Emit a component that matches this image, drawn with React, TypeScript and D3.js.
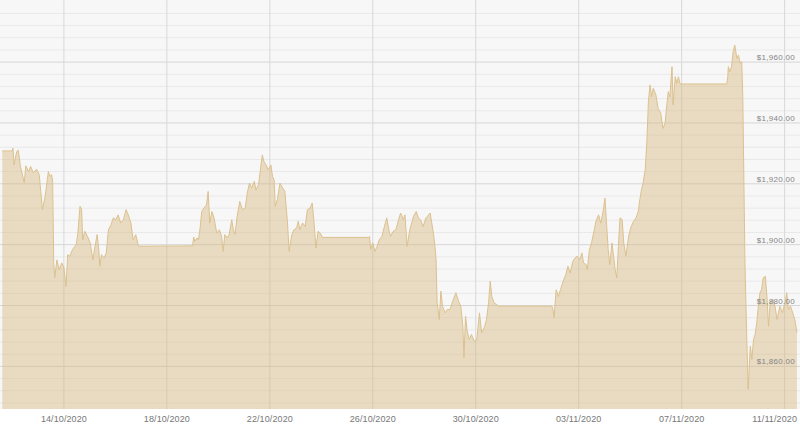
import React from 'react';
import * as d3 from 'd3';

// gold price, UTC "MM-DD HH:mm" (2020)
const times: string[] = [
  '10-11 14:30', '10-11 23:30', '10-12 00:30', '10-12 01:30', '10-12 04:00', '10-12 05:30', '10-12 07:30', '10-12 11:00',
  '10-12 12:30', '10-12 15:00', '10-12 17:00', '10-12 19:30', '10-12 22:30', '10-13 01:00', '10-13 04:00', '10-13 06:30',
  '10-13 09:30', '10-13 11:00', '10-13 12:30', '10-13 13:30', '10-13 14:30', '10-13 15:30', '10-13 17:30', '10-13 19:30',
  '10-13 22:00', '10-14 00:00', '10-14 02:00', '10-14 03:30', '10-14 05:30', '10-14 08:00', '10-14 11:30', '10-14 13:00',
  '10-14 15:00', '10-14 16:30', '10-14 17:30', '10-14 19:30', '10-14 22:00', '10-15 00:30', '10-15 03:00', '10-15 05:00',
  '10-15 07:00', '10-15 08:30', '10-15 09:30', '10-15 11:00', '10-15 13:30', '10-15 15:30', '10-15 17:30', '10-15 20:00',
  '10-15 22:00', '10-16 00:30', '10-16 02:30', '10-16 05:00', '10-16 07:30', '10-16 10:00', '10-16 12:00', '10-16 14:30',
  '10-16 16:30', '10-16 19:00', '10-16 21:30', '10-19 00:00', '10-19 01:00', '10-19 02:00', '10-19 04:00', '10-19 05:30',
  '10-19 07:00', '10-19 08:30', '10-19 10:30', '10-19 13:00', '10-19 14:30', '10-19 16:00', '10-19 18:00', '10-19 20:00',
  '10-19 22:30', '10-20 01:00', '10-20 03:00', '10-20 04:30', '10-20 06:00', '10-20 08:30', '10-20 10:00', '10-20 12:30',
  '10-20 14:00', '10-20 15:30', '10-20 17:30', '10-20 20:00', '10-20 22:30', '10-21 01:00', '10-21 03:00', '10-21 05:00',
  '10-21 07:00', '10-21 09:30', '10-21 11:00', '10-21 13:30', '10-21 15:00', '10-21 17:00', '10-21 18:30', '10-21 20:30',
  '10-21 22:30', '10-22 01:00', '10-22 02:30', '10-22 04:00', '10-22 05:00', '10-22 07:00', '10-22 09:30', '10-22 12:00',
  '10-22 14:00', '10-22 16:30', '10-22 18:00', '10-22 20:30', '10-22 22:30', '10-23 01:00', '10-23 02:30', '10-23 04:00',
  '10-23 06:30', '10-23 09:00', '10-23 11:00', '10-23 13:30', '10-23 15:30', '10-23 17:00', '10-23 19:00', '10-23 21:00',
  '10-23 23:00', '10-24 01:00', '10-25 20:00', '10-25 21:00', '10-25 22:00', '10-26 00:00', '10-26 02:00', '10-26 04:00',
  '10-26 06:00', '10-26 08:30', '10-26 10:30', '10-26 13:00', '10-26 15:00', '10-26 16:30', '10-26 19:00', '10-26 21:30',
  '10-27 00:00', '10-27 02:00', '10-27 04:30', '10-27 06:00', '10-27 08:00', '10-27 10:30', '10-27 14:00', '10-27 16:30',
  '10-27 18:30', '10-27 20:30', '10-27 23:00', '10-28 01:30', '10-28 03:00', '10-28 05:30', '10-28 07:00', '10-28 08:30',
  '10-28 10:00', '10-28 11:00', '10-28 12:00', '10-28 14:00', '10-28 15:30', '10-28 17:00', '10-28 19:30', '10-28 21:30',
  '10-29 00:00', '10-29 02:30', '10-29 05:30', '10-29 08:00', '10-29 10:00', '10-29 12:00', '10-29 13:00', '10-29 14:30',
  '10-29 16:00', '10-29 18:00', '10-29 20:00', '10-29 22:30', '10-30 01:00', '10-30 03:30', '10-30 05:30', '10-30 08:00',
  '10-30 10:00', '10-30 12:00', '10-30 13:30', '10-30 15:00', '10-30 17:00', '10-30 19:30', '10-30 21:30', '11-01 23:00',
  '11-02 00:00', '11-02 01:00', '11-02 03:00', '11-02 05:00', '11-02 07:00', '11-02 09:30', '11-02 12:00', '11-02 14:00',
  '11-02 16:00', '11-02 18:30', '11-02 20:30', '11-02 22:30', '11-03 01:00', '11-03 03:00', '11-03 04:30', '11-03 07:00',
  '11-03 08:00', '11-03 10:00', '11-03 12:00', '11-03 14:30', '11-03 16:00', '11-03 18:30', '11-03 20:30', '11-03 22:30',
  '11-04 00:30', '11-04 02:00', '11-04 03:30', '11-04 05:00', '11-04 07:00', '11-04 08:30', '11-04 10:00', '11-04 11:30',
  '11-04 13:00', '11-04 14:30', '11-04 16:30', '11-04 18:00', '11-04 20:00', '11-04 22:30', '11-05 00:30', '11-05 03:00',
  '11-05 05:30', '11-05 07:30', '11-05 09:00', '11-05 10:30', '11-05 12:00', '11-05 14:00', '11-05 15:30', '11-05 17:00',
  '11-05 18:30', '11-05 20:00', '11-05 21:30', '11-06 00:00', '11-06 02:00', '11-06 04:30', '11-06 06:30', '11-06 08:30',
  '11-06 10:00', '11-06 11:30', '11-06 13:00', '11-06 15:00', '11-06 16:00', '11-06 18:00', '11-06 19:30', '11-06 21:00',
  '11-06 22:30', '11-08 18:00', '11-08 19:00', '11-08 19:30', '11-08 21:00', '11-08 22:30', '11-09 00:00', '11-09 01:30',
  '11-09 03:30', '11-09 05:00', '11-09 06:30', '11-09 08:00', '11-09 09:00', '11-09 11:00', '11-09 12:30', '11-09 14:00',
  '11-09 16:00', '11-09 17:30', '11-09 19:00', '11-09 20:30', '11-09 22:00', '11-09 23:30', '11-10 01:00', '11-10 02:30',
  '11-10 04:00', '11-10 06:00', '11-10 07:30', '11-10 09:00', '11-10 10:30', '11-10 13:00', '11-10 15:00', '11-10 17:00',
  '11-10 19:30', '11-10 22:00', '11-11 00:30', '11-11 02:00', '11-11 03:30', '11-11 05:30', '11-11 07:30', '11-11 09:30',
  '11-11 11:30',
];

const prices: number[] = [
  1930.8, 1930.8, 1931.7, 1926.2, 1930.6, 1931.0, 1925.7, 1920.4,
  1925.9, 1924.0, 1925.7, 1923.6, 1924.8, 1923.0, 1911.5, 1915.8,
  1924.0, 1922.4, 1923.0, 1921.0, 1894.1, 1889.2, 1895.0, 1891.8,
  1894.0, 1892.5, 1886.3, 1896.7, 1896.2, 1898.4, 1900.0, 1903.8,
  1912.6, 1911.5, 1901.6, 1904.4, 1902.7, 1900.6, 1895.0, 1899.4,
  1903.3, 1898.4, 1892.9, 1896.7, 1895.6, 1897.3, 1904.9, 1906.6,
  1908.8, 1908.2, 1909.8, 1907.1, 1908.2, 1911.5, 1909.8, 1907.1,
  1901.6, 1903.3, 1899.5, 1899.6, 1902.5, 1901.1, 1902.2, 1901.6,
  1905.5, 1910.9, 1912.0, 1913.1, 1917.5, 1907.1, 1910.9, 1908.8,
  1903.8, 1904.9, 1902.7, 1897.8, 1903.3, 1902.2, 1903.3, 1908.2,
  1904.9, 1903.3, 1909.3, 1914.2, 1911.5, 1912.0, 1917.0, 1920.2,
  1918.6, 1920.8, 1918.0, 1919.7, 1924.0, 1929.5, 1927.3, 1926.2,
  1924.6, 1926.2, 1922.4, 1921.3, 1912.6, 1914.8, 1920.2, 1918.6,
  1917.5, 1907.1, 1897.8, 1903.3, 1904.9, 1905.5, 1907.7, 1904.9,
  1907.1, 1906.0, 1911.5, 1912.0, 1913.7, 1908.2, 1898.9, 1904.4,
  1903.8, 1902.4, 1902.4, 1902.7, 1898.4, 1900.6, 1897.8, 1899.4,
  1901.6, 1902.7, 1905.5, 1908.8, 1904.9, 1902.7, 1904.4, 1904.9,
  1908.2, 1910.4, 1908.2, 1909.8, 1899.4, 1904.9, 1909.3, 1910.9,
  1908.8, 1908.2, 1906.0, 1908.8, 1909.3, 1910.4, 1907.1, 1903.8,
  1899.4, 1895.1, 1880.9, 1875.4, 1884.7, 1879.8, 1877.6, 1878.7,
  1878.7, 1881.4, 1884.2, 1881.4, 1879.8, 1873.2, 1862.9, 1876.5,
  1871.6, 1868.9, 1870.5, 1868.3, 1868.9, 1877.6, 1871.1, 1872.7,
  1875.4, 1880.9, 1888.0, 1883.0, 1880.9, 1880.3, 1879.8, 1879.8,
  1878.7, 1876.0, 1885.2, 1883.0, 1885.2, 1888.0, 1890.2, 1892.9,
  1890.7, 1894.5, 1895.6, 1896.2, 1895.1, 1897.3, 1894.0, 1893.4,
  1891.8, 1898.4, 1900.6, 1904.9, 1907.6, 1909.8, 1907.1, 1910.4,
  1915.3, 1906.6, 1898.4, 1893.4, 1900.6, 1896.2, 1891.8, 1889.1,
  1899.4, 1908.8, 1908.2, 1900.6, 1896.2, 1902.7, 1905.5, 1907.6,
  1908.8, 1910.9, 1914.8, 1918.0, 1920.2, 1924.6, 1933.3, 1947.0,
  1952.5, 1948.6, 1951.4, 1949.2, 1944.8, 1943.2, 1938.2, 1939.9,
  1945.3, 1950.3, 1948.6, 1958.5, 1945.9, 1955.2, 1953.0, 1955.2,
  1952.8, 1952.8, 1955.2, 1958.5, 1956.8, 1958.5, 1963.4, 1965.6,
  1961.2, 1962.3, 1959.6, 1960.1, 1948.6, 1894.0, 1872.1, 1852.5,
  1866.7, 1862.3, 1868.9, 1870.5, 1874.3, 1879.8, 1884.2, 1885.2,
  1889.1, 1889.6, 1883.0, 1873.2, 1880.9, 1882.0, 1879.8, 1875.4,
  1879.8, 1877.6, 1881.4, 1884.2, 1878.7, 1879.8, 1877.6, 1875.4,
  1871.1,
];

const tickDates: string[] = [
  '2020-10-14', '2020-10-18', '2020-10-22', '2020-10-26',
  '2020-10-30', '2020-11-03', '2020-11-07', '2020-11-11',
];
const priceTicks: number[] = [1860, 1880, 1900, 1920, 1940, 1960];

const W = 800;
const H = 425;
const plotBottom = 409;

const parse = (s: string) => new Date(`2020-${s.replace(' ', 'T')}:00Z`);

export default function App() {
  const data = times.map((t, i) => ({ date: parse(t), value: prices[i] }));

  const x = d3.scaleUtc()
    .domain([new Date('2020-10-11T12:25:00Z'), new Date('2020-11-11T14:20:00Z')])
    .range([0, W]);
  const y = d3.scaleLinear().domain([1846, 1980.4]).range([plotBottom, 0]);

  const area = d3.area<{ date: Date; value: number }>()
    .x(d => x(d.date))
    .y0(plotBottom)
    .y1(d => y(d.value));
  const line = d3.line<{ date: Date; value: number }>()
    .x(d => x(d.date))
    .y(d => y(d.value));

  const minor = d3.range(1848, 1981, 4).filter(v => v % 20 !== 0);
  const fmtDate = d3.utcFormat('%d/%m/%Y');
  const fmtPrice = (v: number) => '$' + d3.format(',.2f')(v);
  const ticks = tickDates.map(s => new Date(s + 'T00:00:00Z'));

  return (
    <svg width={W} height={H} style={{ position: 'absolute', left: 0, top: 0, background: '#fff' }}>
      <rect x={0} y={0} width={W} height={plotBottom} fill="#f7f7f7" />
      {minor.map(v => (
        <line key={'m' + v} x1={0} x2={W} y1={y(v)} y2={y(v)} stroke="#e9e9e9" strokeWidth={1} />
      ))}
      {priceTicks.map(v => (
        <line key={'M' + v} x1={0} x2={W} y1={y(v)} y2={y(v)} stroke="#d6d6d6" strokeWidth={1} />
      ))}
      {ticks.map(d => (
        <line key={'v' + d.getTime()} x1={x(d)} x2={x(d)} y1={0} y2={plotBottom} stroke="#d8d8d8" strokeWidth={1} />
      ))}
      <path d={area(data) ?? ''} fill="rgb(214,180,120)" fillOpacity={0.42} />
      <path d={line(data) ?? ''} fill="none" stroke="#dcc18f" strokeWidth={1} />
      {priceTicks.map(v => (
        <text key={'t' + v} x={795} y={y(v) - 2} textAnchor="end" fontFamily="Liberation Sans, Arial, sans-serif"
          fontSize={8} letterSpacing={0.3} fill="#858585">
          {fmtPrice(v)}
        </text>
      ))}
      {ticks.map(d => {
        const px = x(d);
        const last = px + 24 > W;
        return (
          <text key={'x' + d.getTime()} x={last ? W - 3 : px} y={422} textAnchor={last ? 'end' : 'middle'}
            fontFamily="Liberation Sans, Arial, sans-serif" fontSize={9} letterSpacing={0.1} fill="#777">
            {fmtDate(d)}
          </text>
        );
      })}
    </svg>
  );
}
